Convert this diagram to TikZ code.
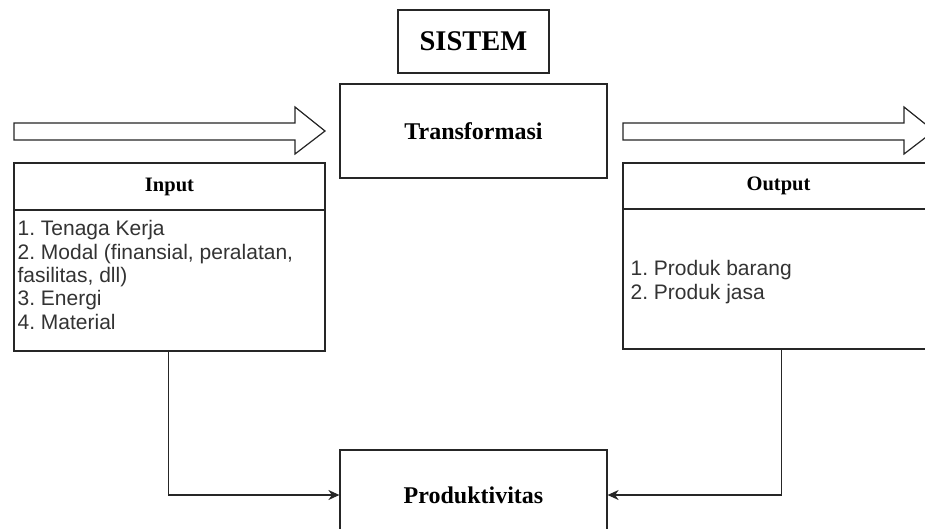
\documentclass[tikz,border=0pt]{standalone}
\usepackage{fontspec}
\setmainfont{Liberation Serif}
\newfontfamily\arialf{Liberation Sans}
\usetikzlibrary{arrows.meta,calc}
\tikzset{
  box/.style={draw=black!85, line width=1.2pt, rectangle, inner sep=0pt, fill=white},
  head/.style={box, font=\fontsize{20.5}{24}\selectfont\bfseries},
  big/.style={box, font=\fontsize{24}{28}\selectfont\bfseries},
  listtxt/.style={font=\arialf\frenchspacing\fontsize{21}{23.3}\selectfont, text=black!80, align=left, inner sep=0pt},
  conn/.style={draw=black!85, line width=1.2pt, -{Stealth[length=11pt,width=10pt,inset=3.5pt]}},
  blockarrow/.style={draw=black!85, line width=1.2pt, fill=white, line join=miter}
}
\begin{document}
\frenchspacing
\begin{tikzpicture}[x=1pt,y=-1pt]
\useasboundingbox (0,0) rectangle (925,529);
\clip (0,0) rectangle (925,529);
\fill[white] (0,0) rectangle (925,529);

% SISTEM and Transformasi
\node[box, minimum width=151pt, minimum height=63pt, font=\fontsize{28.5}{32}\selectfont\bfseries] (sistem) at (473.5,41.5) {SISTEM};
\node[big, minimum width=267pt, minimum height=94pt] (trans) at (473.5,131) {Transformasi};

% Input
\node[head, minimum width=311pt, minimum height=47pt] (inhead) at (169.5,186.5) {Input};
\node[box, minimum width=311pt, minimum height=141pt] (inbody) at (169.5,280.5) {};
\node[listtxt, anchor=north west] (intext) at ([shift={(4,11)}]inbody.north west)
  {1. Tenaga Kerja\\2. Modal (finansial, peralatan,\\fasilitas, dll)\\3. Energi\\4. Material};

% Output
\node[head, minimum width=311pt, minimum height=46pt] (outhead) at (778.5,186) {Output};
\node[box, minimum width=311pt, minimum height=140pt] (outbody) at (778.5,279) {};
\node[listtxt, anchor=west] (outtext) at ([shift={(8,3)}]outbody.west)
  {1. Produk barang\\2. Produk jasa};

% Produktivitas
\node[big, minimum width=267pt, minimum height=90pt] (prod) at (473.5,495) {Produktivitas};

% Block arrows
\draw[blockarrow] (14,123) -- (295,123) -- (295,107) -- (325,131) -- (295,154) -- (295,140) -- (14,140) -- cycle;
\draw[blockarrow] (623,123) -- (904,123) -- (904,107) -- (934,131) -- (904,154) -- (904,140) -- (623,140) -- cycle;

% Connectors
\draw[conn] ([xshift=155]inbody.south west) |- (prod.west);
\draw[conn] ([xshift=159]outbody.south west) |- (prod.east);
\end{tikzpicture}
\end{document}
